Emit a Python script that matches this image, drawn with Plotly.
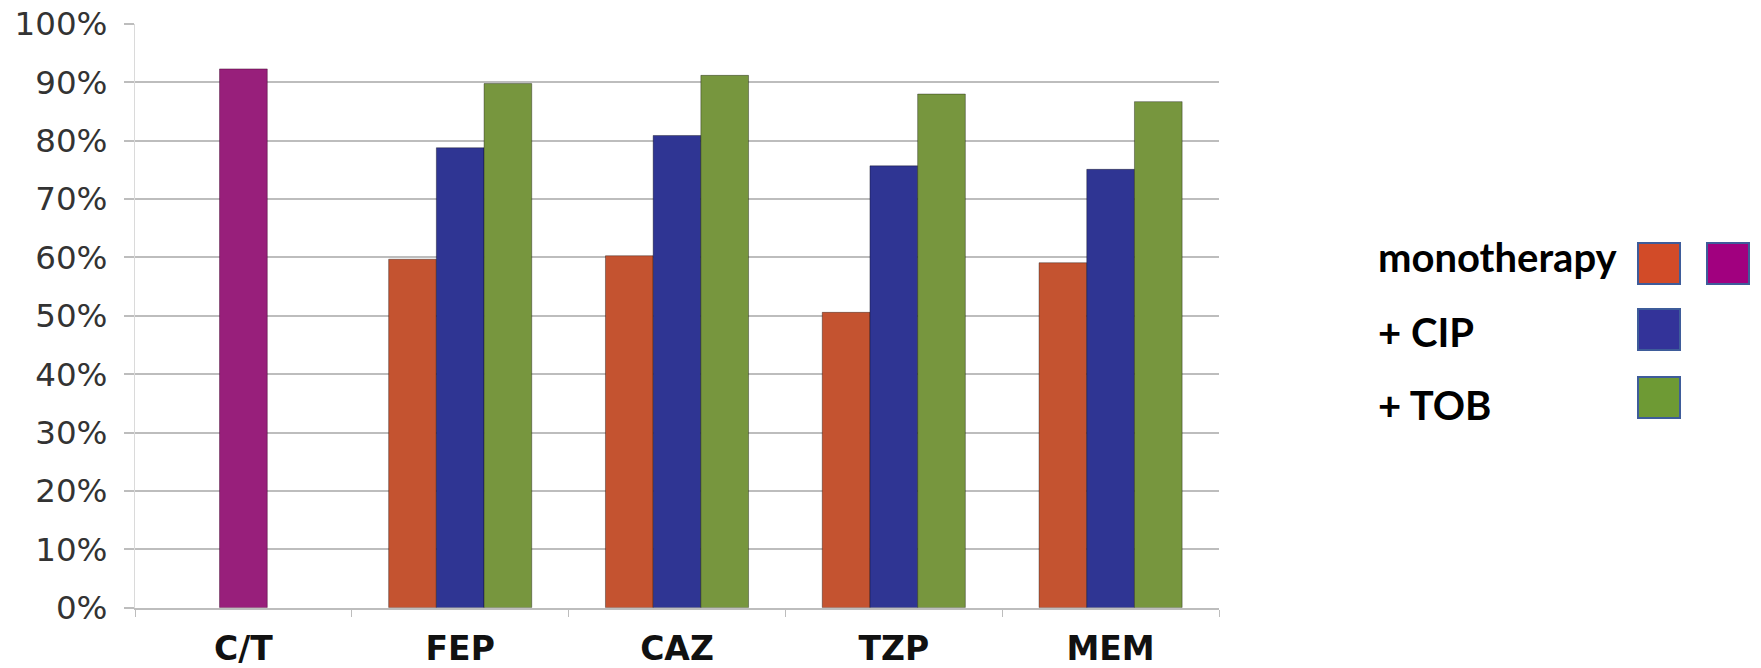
import plotly.graph_objects as go

# Susceptibility by regimen
categories = ["C/T", "FEP", "CAZ", "TZP", "MEM"]
combo_categories = ["FEP", "CAZ", "TZP", "MEM"]
ct_monotherapy = [92.3]
monotherapy = [59.7, 60.3, 50.6, 59.1]
plus_cip = [78.8, 80.9, 75.7, 75.1]
plus_tob = [89.8, 91.2, 88.0, 86.7]
y_ticks = list(range(0, 101, 10))

legend_rows = ["monotherapy", "+ CIP", "+ TOB"]

W, H = 1761, 668
C_ORANGE = "#C45330"
C_BLUE = "#2F3593"
C_GREEN = "#77963E"
C_PURPLE = "#981F7B"
GRID = "#BDBDBD"


def fx(px):
    return px / W


def fy(py):
    return 1 - py / H


BAR_W = 0.22

fig = go.Figure()
fig.add_trace(go.Bar(x=categories[:1], y=ct_monotherapy, width=BAR_W, offset=-BAR_W / 2,
                     marker=dict(color=C_PURPLE, line=dict(color="rgba(60,0,40,0.45)", width=1)),
                     name="monotherapy C/T"))
for vals, col, off, nm in [(monotherapy, C_ORANGE, -1.5 * BAR_W, "monotherapy"),
                           (plus_cip, C_BLUE, -0.5 * BAR_W, "+ CIP"),
                           (plus_tob, C_GREEN, 0.5 * BAR_W, "+ TOB")]:
    fig.add_trace(go.Bar(x=combo_categories, y=vals, width=BAR_W, offset=off,
                         marker=dict(color=col, line=dict(color="rgba(0,0,0,0.35)", width=1)),
                         name=nm))

fig.update_layout(
    width=W, height=H,
    margin=dict(l=0, r=0, t=0, b=0, autoexpand=False),
    paper_bgcolor="white", plot_bgcolor="white",
    barmode="overlay",
    showlegend=False,
    xaxis=dict(
        domain=[fx(135), fx(1219)],
        automargin=False,
        type="category", categoryorder="array", categoryarray=categories,
        range=[-0.5, 4.5],
        tickson="boundaries", ticks="outside", ticklen=7, tickcolor=GRID, tickwidth=1,
        showline=True, linecolor=GRID, linewidth=2,
        showgrid=False,
        tickfont=dict(family="DejaVu Sans", size=33, color="#111111", weight="bold"),
        ticklabelstandoff=11,
    ),
    yaxis=dict(
        domain=[fy(607.7), fy(24)],
        automargin=False,
        range=[0, 100],
        tickvals=y_ticks, ticktext=[f"{v}%" for v in y_ticks],
        showgrid=True, gridcolor=GRID, gridwidth=1.5,
        showline=True, linecolor="#DADADA", linewidth=1,
        ticks="outside", ticklen=10, tickcolor=GRID, tickwidth=1.5,
        zeroline=False,
        tickfont=dict(family="DejaVu Sans", size=32.5, color="#333333"),
        ticklabelstandoff=10,
    ),
)

# Legend: labels on the left, colour swatches on the right
label_font = dict(family="Lato", size=40, color="black", weight="bold")
row_mid = [257, 332, 405]
for txt, ym in zip(legend_rows, row_mid):
    fig.add_annotation(x=fx(1376), y=fy(ym), xref="paper", yref="paper",
                       text=txt, showarrow=False, xanchor="left", yanchor="middle",
                       font=label_font)

swatches = [
    (1638, 243, "#D24B28"),
    (1707, 243, "#A1007F"),
    (1638, 309, "#333399"),
    (1638, 377, "#6E9A34"),
]
for x0, y0, col in swatches:
    fig.add_shape(type="rect", xref="paper", yref="paper",
                  x0=fx(x0), x1=fx(x0 + 42), y0=fy(y0 + 41), y1=fy(y0),
                  fillcolor=col, line=dict(color="#3E5C9A", width=2))

fig.write_html("out.html")
